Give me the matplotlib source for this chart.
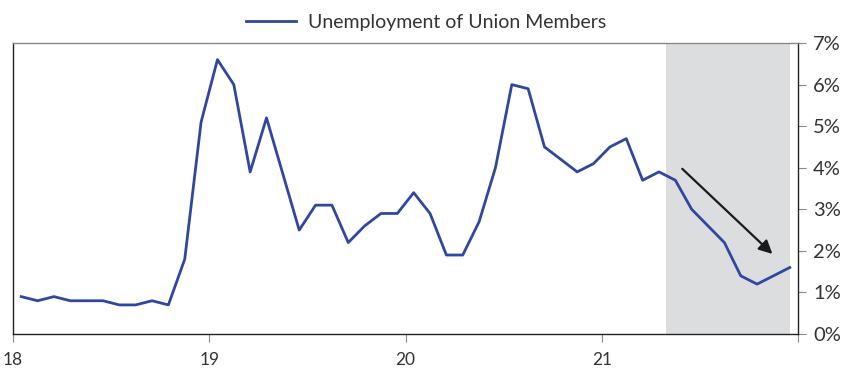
import matplotlib
matplotlib.use("Agg")
import matplotlib.pyplot as plt
import numpy as np

# Monthly data Jan 2018 - Dec 2021 (plotted mid-month)
start_year = 18
unemployment = [0.9, 0.8, 0.9, 0.8, 0.8, 0.8, 0.7, 0.7, 0.8, 0.7, 1.8, 5.1,
                6.6, 6.0, 3.9, 5.2, 3.85, 2.5, 3.1, 3.1, 2.2, 2.6, 2.9, 2.9,
                3.4, 2.9, 1.9, 1.9, 2.7, 4.0, 6.0, 5.9, 4.5, 4.2, 3.9, 4.1,
                4.5, 4.7, 3.7, 3.9, 3.7, 3.0, 2.6, 2.2, 1.4, 1.2, 1.4, 1.6]
x_ticks = [18, 19, 20, 21, 22]
x_tick_labels = ["18", "19", "20", "21", ""]
y_ticks = [0, 1, 2, 3, 4, 5, 6, 7]
y_tick_labels = ["0%", "1%", "2%", "3%", "4%", "5%", "6%", "7%"]
shade_span = (21 + 3.9 / 12, 21 + 11.5 / 12)
arrow_start = (21.40, 4.02)
arrow_end = (21.88, 1.88)
series_label = "Unemployment of Union Members"

x = start_year + (np.arange(len(unemployment)) + 0.5) / 12

plt.rcParams['font.family'] = ['Lato', 'DejaVu Sans']

fig = plt.figure(figsize=(8.52, 3.71), dpi=100)
ax = fig.add_axes([0.0153, 0.0997, 0.9213, 0.7843])

ax.axvspan(shade_span[0], shade_span[1], color="#dcdddf", lw=0, zorder=0)
ax.plot(x, unemployment, color="#3047a0", lw=2.0, label=series_label, zorder=3)

ax.annotate("", xy=arrow_end, xytext=arrow_start,
            arrowprops=dict(arrowstyle="-|>,head_length=0.8,head_width=0.4",
                            color="#1a1a1a", lw=1.6), zorder=4)

ax.set_xlim(18, 22)
ax.set_ylim(0, 7)
ax.set_xticks(x_ticks)
ax.set_xticklabels(x_tick_labels, fontsize=12.5, color="#333333")
ax.set_yticks(y_ticks)
ax.set_yticklabels(y_tick_labels, fontsize=14.5, color="#333333")
ax.yaxis.tick_right()
ax.tick_params(axis="y", direction="out", length=6, color="#888888", pad=5)
ax.tick_params(axis="x", direction="out", length=6, color="#888888", pad=7)

for side in ["left", "bottom", "right"]:
    ax.spines[side].set_color("#222222")
    ax.spines[side].set_linewidth(1.0)
ax.spines["top"].set_color("#888888")
ax.spines["top"].set_linewidth(1.0)

leg = fig.legend(loc="upper center", bbox_to_anchor=(0.5, 1.01), frameon=False,
                 fontsize=14, handlelength=2.6, handletextpad=0.6)
for t in leg.get_texts():
    t.set_color("#333333")

fig.savefig("out.png", dpi=100)
